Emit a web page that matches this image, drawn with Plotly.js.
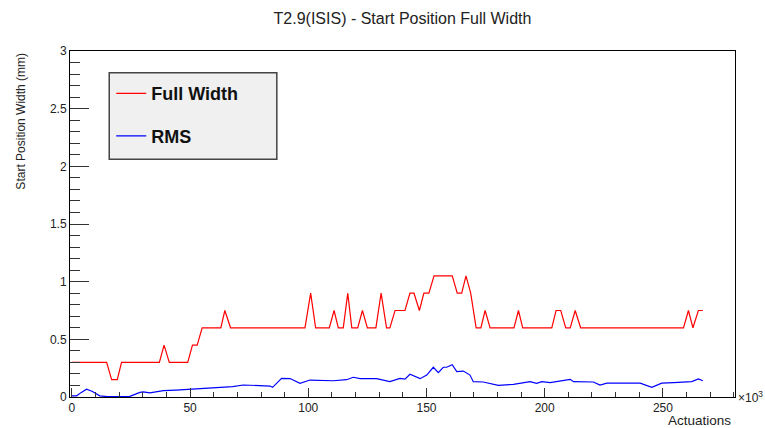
<!DOCTYPE html>
<html>
<head>
<meta charset="utf-8">
<script src="https://cdn.plot.ly/plotly-3.0.1.min.js"></script>
<style>html,body{margin:0;padding:0;background:#fff;}#chart{width:765px;height:428px;}</style>
</head>
<body>
<div id="chart"></div>
<script>
// Full Width series (actuations in thousands, mm)
const fullWidthX = [0,14.7,16.8,19.2,21,37,39,41.2,49,51,53,55.1,63,64.7,67.1,98.6,101,103.1,108.9,110.9,112.7,114.8,116.7,118.4,120.9,122.9,125,128.6,130.8,133.1,134.5,136.7,140.9,143,144.7,147,148.9,151,153.2,160.9,163,164.9,166.7,168.7,171,173,174.8,176.9,187,188.9,190.7,203,204.8,206.8,208.9,210.8,212.9,215.2,258.7,260.8,262.7,265,266.9];
const fullWidthY = [0.3,0.3,0.15,0.15,0.3,0.3,0.45,0.3,0.3,0.45,0.45,0.6,0.6,0.75,0.6,0.6,0.9,0.6,0.6,0.75,0.6,0.6,0.9,0.6,0.6,0.75,0.6,0.6,0.9,0.6,0.6,0.75,0.75,0.9,0.9,0.75,0.9,0.9,1.05,1.05,0.9,0.9,1.05,0.9,0.6,0.6,0.75,0.6,0.6,0.75,0.6,0.6,0.75,0.75,0.6,0.6,0.75,0.6,0.6,0.75,0.6,0.75,0.75];

// RMS series
const rmsX = [0,2,4,6.2,8.5,11.8,15,20,24.5,28.8,30.2,33,38.7,44,50,56,62.6,68,72.5,79.6,83.8,84.9,88.7,92.3,96.5,100.7,105,110.6,116.2,119,121.9,128.9,134.5,138.8,140.9,143,147.3,150.1,152.9,155,157.1,158.5,160.9,162.8,165.6,168.4,169.8,174,180.4,186.8,193.8,196.6,198.8,202.3,210.8,212.2,220.6,223.4,226.3,240.4,245.3,249.5,254.5,262.2,265,266.9];
const rmsY = [0.01,0.01,0.04,0.067,0.05,0.01,0.003,0.002,0.005,0.04,0.045,0.035,0.055,0.06,0.067,0.072,0.084,0.09,0.104,0.098,0.095,0.084,0.162,0.16,0.119,0.147,0.145,0.141,0.15,0.171,0.16,0.16,0.133,0.162,0.155,0.197,0.159,0.19,0.258,0.211,0.258,0.258,0.28,0.22,0.225,0.19,0.133,0.13,0.101,0.11,0.133,0.119,0.133,0.125,0.153,0.133,0.13,0.104,0.12,0.12,0.084,0.12,0.124,0.133,0.156,0.141];

const seriesNames = ["Full Width", "RMS"];
const yTickVals = [0,0.5,1,1.5,2,2.5,3];
const yTickText = ["0","0.5","1","1.5","2","2.5","3"];
const xTickVals = [0,50,100,150,200,250];
const xTickText = ["0","50","100","150","200","250"];

const FONT = "Liberation Sans, Arial, sans-serif";
const traces = [
  {x: fullWidthX, y: fullWidthY, name: seriesNames[0], type: "scatter", mode: "lines",
   line: {color: "#ff0000", width: 1.2}, legendgroup: "a"},
  {x: rmsX, y: rmsY, name: seriesNames[1], type: "scatter", mode: "lines",
   line: {color: "#0000ff", width: 1.2}, legendgroup: "b"}
];

const layout = {
  width: 765, height: 428,
  margin: {l: 70, r: 30, t: 51, b: 31},
  paper_bgcolor: "#ffffff", plot_bgcolor: "#ffffff",
  font: {family: FONT, color: "#222", size: 12},
  title: {text: "T2.9(ISIS) - Start Position Full Width", font: {family: FONT, size: 16, color: "#222"},
          x: 0.5, xref: "paper", y: 1 - 18/428, yref: "container", yanchor: "middle"},
  xaxis: {range: [-0.8, 280.5], tickvals: xTickVals, ticktext: xTickText,
          ticks: "inside", ticklen: 9, tickwidth: 1, tickcolor: "#333",
          minor: {dtick: 10, tick0: 0, ticks: "inside", ticklen: 5, tickcolor: "#333"},
          showline: true, mirror: true, linecolor: "#000", linewidth: 1,
          showgrid: false, zeroline: false, tickfont: {size: 12, color: "#222"}},
  yaxis: {range: [0, 3], tickvals: yTickVals, ticktext: yTickText,
          ticks: "inside", ticklen: 19, tickwidth: 1, tickcolor: "#333",
          minor: {dtick: 0.1, tick0: 0, ticks: "inside", ticklen: 10, tickcolor: "#333"},
          showline: true, mirror: true, linecolor: "#000", linewidth: 1,
          showgrid: false, zeroline: false, tickfont: {size: 12, color: "#222"}},
  showlegend: true,
  legend: {x: 0.062, y: 0.93, xanchor: "left", yanchor: "top", bgcolor: "rgba(0,0,0,0)",
           borderwidth: 0, font: {family: FONT, size: 18, color: "#111", weight: "bold"},
           traceorder: "grouped", tracegroupgap: 16},
  shapes: [{type: "rect", xref: "paper", yref: "paper", x0: 0.059, x1: 0.311, y0: 0.687, y1: 0.937,
            fillcolor: "#f0f0f0", line: {color: "#444", width: 1.5}, layer: "below"}],
  annotations: [
    {text: "Start Position Width (mm)", textangle: -90, xref: "paper", yref: "paper",
     x: -0.075, y: 1.0, xanchor: "center", yanchor: "top", showarrow: false,
     font: {family: FONT, size: 12, color: "#222"}},
    {text: "Actuations", xref: "paper", yref: "paper", x: 0.997, y: -0.0665,
     xanchor: "right", yanchor: "middle", showarrow: false, font: {family: FONT, size: 13.5, color: "#222"}},
    {text: "×10<sup>3</sup>", xref: "paper", yref: "paper", x: 1, y: 0, xanchor: "left", yanchor: "middle",
     xshift: 1, showarrow: false, font: {family: FONT, size: 12, color: "#222"}}
  ]
};

Plotly.newPlot("chart", traces, layout, {staticPlot: true, displayModeBar: false});
</script>
</body>
</html>
